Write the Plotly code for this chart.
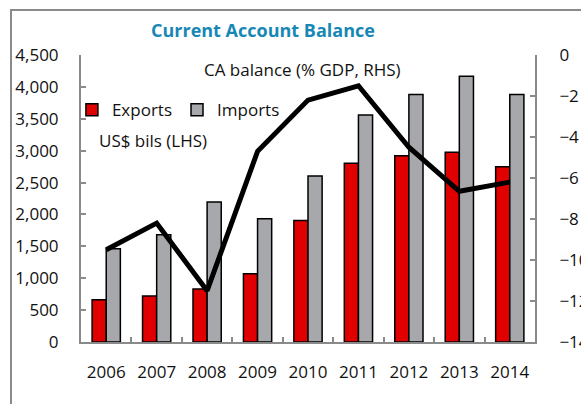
import plotly.graph_objects as go

years = ["2006", "2007", "2008", "2009", "2010", "2011", "2012", "2013", "2014"]
exports = [663, 722, 832, 1069, 1906, 2801, 2922, 2975, 2749]
imports = [1464, 1680, 2196, 1932, 2602, 3559, 3881, 4166, 3881]
ca_balance = [-9.5, -8.2, -11.5, -4.7, -2.2, -1.5, -4.5, -6.65, -6.2]
left_ticks = [0, 500, 1000, 1500, 2000, 2500, 3000, 3500, 4000, 4500]
right_ticks = [0, -2, -4, -6, -8, -10, -12, -14]

FONT = "Open Sans"
AXC = "#8a8a8a"

fig = go.Figure()
fig.add_trace(go.Bar(x=years, y=exports, name="Exports",
                     marker=dict(color="#e00000", line=dict(color="black", width=1.5))))
fig.add_trace(go.Bar(x=years, y=imports, name="Imports",
                     marker=dict(color="#a6a8ab", line=dict(color="black", width=1.5))))
fig.add_trace(go.Scatter(x=years, y=ca_balance, yaxis="y2", mode="lines",
                         line=dict(color="black", width=5), showlegend=False))

fig.update_layout(
    width=581, height=404,
    margin=dict(l=81, r=46, t=55, b=62, autoexpand=False),
    paper_bgcolor="white", plot_bgcolor="white",
    font=dict(family=FONT, size=17, color="#111"),
    barmode="group", bargap=0.44, bargroupgap=0,
    showlegend=True,
    legend=dict(orientation="h", x=-0.02, xanchor="left", y=0.808, yanchor="middle",
                bgcolor="rgba(0,0,0,0)", font=dict(size=17), itemwidth=30,
                tracegroupgap=0, traceorder="normal"),
    xaxis=dict(type="category", showline=True, linecolor=AXC, linewidth=2,
               ticks="inside", tickson="boundaries", ticklen=5, tickcolor=AXC,
               tickwidth=1.5, showgrid=False, ticklabelstandoff=14,
               tickangle=0, automargin=False),
    yaxis=dict(range=[0, 4500], tickvals=left_ticks, tickformat=",",
               showline=True, linecolor=AXC, linewidth=2, ticks="inside",
               ticklen=5, tickcolor=AXC, tickwidth=1.5, showgrid=False,
               zeroline=False, ticklabelstandoff=17, automargin=False),
    yaxis2=dict(range=[-14, 0], tickvals=right_ticks, overlaying="y", side="right",
                showline=True, linecolor=AXC, linewidth=2, ticks="inside",
                ticklen=5, tickcolor=AXC, tickwidth=1.5, showgrid=False,
                zeroline=False, ticklabelstandoff=19, automargin=False),
    shapes=[dict(type="rect", xref="paper", yref="paper",
                 x0=(11 - 81) / 454, x1=1.3, y0=-0.5,
                 y1=(341.7 - 10) / 286.7,
                 line=dict(color=AXC, width=2), layer="below")],
    annotations=[
        dict(text="<b>Current Account Balance</b>", xref="paper", yref="paper",
             x=(263 - 81) / 454, y=(341.7 - 30) / 286.7, showarrow=False,
             font=dict(size=18, color="#1787b6", family=FONT), xanchor="center", yanchor="middle"),
        dict(text="CA balance (% GDP, RHS)", xref="paper", yref="paper",
             x=(202 - 81) / 454, y=(341.7 - 69) / 286.7, showarrow=False,
             xanchor="left", yanchor="middle", font=dict(size=17)),
        dict(text="US$ bils (LHS)", xref="paper", yref="paper",
             x=(97 - 81) / 454, y=(341.7 - 140) / 286.7, showarrow=False,
             xanchor="left", yanchor="middle", font=dict(size=17)),
    ],
)

fig.write_html("out.html")
